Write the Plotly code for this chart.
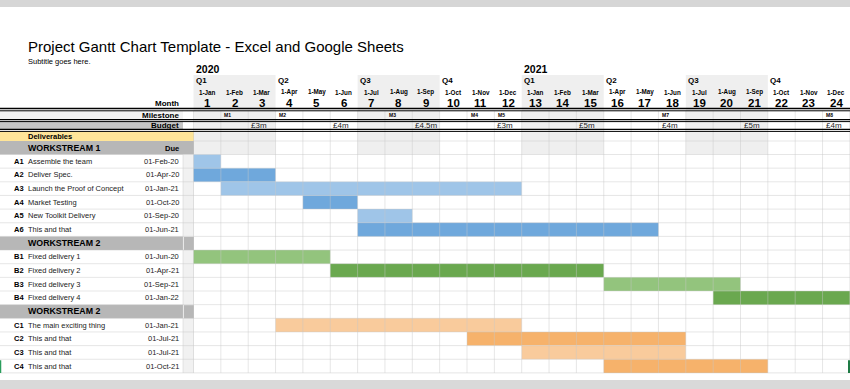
import plotly.graph_objects as go

# ---------------- data ----------------
title = "Project Gantt Chart Template - Excel and Google Sheets"
subtitle = "Subtitle goes here."
years = ["2020", "2021"]
quarters = ["Q1", "Q2", "Q3", "Q4", "Q1", "Q2", "Q3", "Q4"]
month_labels = ["1-Jan", "1-Feb", "1-Mar", "1-Apr", "1-May", "1-Jun",
                "1-Jul", "1-Aug", "1-Sep", "1-Oct", "1-Nov", "1-Dec"] * 2
month_numbers = list(range(1, 25))
milestone_names = ["M1", "M2", "M3", "M4", "M5", "M7", "M8"]
milestone_months = [2, 4, 8, 11, 12, 18, 24]
budget_labels = ["£3m", "£4m", "£4.5m", "£3m", "£5m", "£4m", "£5m", "£4m"]
budget_months = [3, 6, 9, 12, 15, 18, 21, 24]

section_titles = ["WORKSTREAM 1", "WORKSTREAM 2", "WORKSTREAM 2"]
task_ids = ["A1", "A2", "A3", "A4", "A5", "A6",
            "B1", "B2", "B3", "B4",
            "C1", "C2", "C3", "C4"]
task_names = ["Assemble the team", "Deliver Spec.", "Launch the Proof of Concept",
              "Market Testing", "New Toolkit Delivery", "This and that",
              "Fixed delivery 1", "Fixed delivery 2", "Fixed delivery 3", "Fixed delivery 4",
              "The main exciting thing", "This and that", "This and that", "This and that"]
task_due = ["01-Feb-20", "01-Apr-20", "01-Jan-21", "01-Oct-20", "01-Sep-20", "01-Jun-21",
            "01-Jun-20", "01-Apr-21", "01-Sep-21", "01-Jan-22",
            "01-Jan-21", "01-Jul-21", "01-Jul-21", "01-Oct-21"]
task_section = [0, 0, 0, 0, 0, 0, 1, 1, 1, 1, 2, 2, 2, 2]
task_start = [1, 1, 2, 5, 7, 7, 1, 6, 16, 20, 4, 11, 13, 16]
task_end = [1, 3, 12, 6, 8, 17, 5, 15, 20, 24, 12, 18, 18, 21]
task_colors = ["#9fc5e8", "#6fa8dc", "#9fc5e8", "#6fa8dc", "#9fc5e8", "#6fa8dc",
               "#93c47d", "#6aa84f", "#93c47d", "#6aa84f",
               "#f9cb9c", "#f6b26b", "#f9cb9c", "#f6b26b"]

# ---------------- layout geometry ----------------
W, H = 850, 389
X0, CW = 193.5, 27.35          # first month column left edge, column width (px)
Y0, RH = 154.5, 13.65          # first task row top, row height (px)
FONT = "Liberation Sans, Arial, Helvetica, sans-serif"


def px(x):
    return x / W


def py(y):
    return 1 - y / H


# row index of each task (section header rows interleaved)
task_rows = []
section_rows = []
r = 0
prev = 0
for s in task_section:
    if s != prev:
        section_rows.append(r)
        r += 1
        prev = s
    task_rows.append(r)
    r += 1
n_rows = r
row_px = lambda v: Y0 + (v + 0.5) * RH

fig = go.Figure()

fig.add_trace(go.Bar(
    orientation="h",
    y=task_rows,
    x=[e - s + 1 for s, e in zip(task_start, task_end)],
    base=[s - 1 for s in task_start],
    width=1.0,
    marker=dict(color=task_colors, line=dict(width=0)),
    hoverinfo="skip",
    showlegend=False,
))

shapes = []


def rect(x0, x1, y0, y1, color, xref="paper", layer="below"):
    if xref == "paper":
        x0, x1 = px(x0), px(x1)
    shapes.append(dict(type="rect", xref=xref, yref="paper", x0=x0, x1=x1,
                       y0=py(y0), y1=py(y1), fillcolor=color, line=dict(width=0), layer=layer))


def hline(y, x0, x1, color, width=1, layer="below"):
    shapes.append(dict(type="line", xref="paper", yref="paper", x0=px(x0), x1=px(x1),
                       y0=py(y), y1=py(y), line=dict(color=color, width=width), layer=layer))


def vline(x, y0, y1, color, width=1, xref="x", layer="below"):
    if xref == "paper":
        x = px(x)
    shapes.append(dict(type="line", xref=xref, yref="paper", x0=x, x1=x,
                       y0=py(y0), y1=py(y1), line=dict(color=color, width=width), layer=layer))


# outer grey bands
rect(0, W, 0, 7, "#d6d6d6")
rect(0, W, 380, H, "#d9d9d9")

# quarter shading (Q1 and Q3 columns)
for qi in range(len(quarters)):
    if qi % 2 == 0:
        rect(qi * 3, qi * 3 + 3, 75, Y0, "#efefef", xref="x")

# label area fills
rect(0, 183, 111, 119.6, "#f3f3f3")
rect(0, 183, 121.6, 129.4, "#c6c6c6")
rect(0, 194, 131.4, 141, "#ffe599")
rect(0, 194, 141, Y0, "#b7b7b7")
rect(183, 194, Y0, Y0 + n_rows * RH, "#f1f1f1")
for sr in section_rows:
    rect(0, 183, Y0 + sr * RH, Y0 + (sr + 1) * RH, "#b7b7b7")
    rect(184, 194, Y0 + sr * RH + 0.5, Y0 + (sr + 1) * RH, "#b7b7b7")

# grid (above bars, semi-transparent)
grid = "rgba(200,200,200,0.45)"
for k in range(n_rows + 1):
    hline(Y0 + k * RH, 0, W, grid, 1, layer="above")
hline(141, X0, W, grid, 1, layer="above")
for c in range(25):
    vline(c, 111, Y0 + n_rows * RH, grid, 1, layer="above")
vline(183, Y0, Y0 + n_rows * RH, grid, 1, xref="paper", layer="above")

# black double rules
for ya, yb in [(108.5, 110.8), (119.6, 121.6), (129.4, 131.4)]:
    hline(ya, 0, W, "#000000", 1.4, layer="above")
    hline(yb, 0, W, "#000000", 1.0, layer="above")

# selection marks
vline(849, Y0 + 15 * RH + 1, Y0 + 16 * RH, "#1e7b45", 2, xref="paper", layer="above")
vline(0.5, Y0 + 15 * RH + 1, Y0 + 16 * RH, "#2a9d5c", 1.5, xref="paper", layer="above")

ann = []


def text(x, y, s, size, bold=False, xanchor="left", xref="paper", yref="paper", color="#000000"):
    if xref == "paper":
        x = px(x)
    if yref == "paper":
        y = py(y)
    ann.append(dict(x=x, y=y, xref=xref, yref=yref, text=("<b>%s</b>" % s) if bold else s,
                    showarrow=False, xanchor=xanchor, yanchor="middle",
                    font=dict(family=FONT, size=size, color=color)))


text(26, 46, title, 15)
text(26, 61, subtitle, 7.5)
for i, yr in enumerate(years):
    text(i * 12 + 0.02, 69, yr, 10.5, bold=True, xref="x")
for qi, q in enumerate(quarters):
    text(qi * 3 + 0.02, 81, q, 8, bold=True, xref="x")
for c, (ml, mn) in enumerate(zip(month_labels, month_numbers)):
    text(c + 0.5, 92.3, ml, 6.3, bold=True, xanchor="center", xref="x")
    text(c + 0.5, 103, str(mn), 11.5, bold=True, xanchor="center", xref="x")
text(181, 103, "Month", 8, bold=True, xanchor="right")
text(181, 115.4, "Milestone", 8, bold=True, xanchor="right")
text(181, 125.6, "Budget", 8, bold=True, xanchor="right")
for name, m in zip(milestone_names, milestone_months):
    text(m - 1 + 0.06, 115.4, name, 5, bold=True, xref="x")
for b, m in zip(budget_labels, budget_months):
    text(m - 1 + 0.04, 125.6, b, 8, xref="x", color="#222222")
text(26, 136.3, "Deliverables", 7.5, bold=True)
text(26, 148, section_titles[0], 8.8, bold=True)
text(181, 148, "Due", 7.5, bold=True, xanchor="right")
for i, sr in enumerate(section_rows):
    text(26, row_px(sr), section_titles[i + 1], 8.8, bold=True)
for tid, name, due, rr in zip(task_ids, task_names, task_due, task_rows):
    yy = row_px(rr)
    text(12, yy, tid, 7.5, bold=True)
    text(26, yy, name, 7.5, color="#222222")
    text(181, yy, due, 7.5, xanchor="right", color="#222222")

fig.update_layout(
    width=W, height=H,
    margin=dict(l=0, r=0, t=0, b=0),
    paper_bgcolor="#ffffff", plot_bgcolor="#ffffff",
    xaxis=dict(range=[-X0 / CW, (W - X0) / CW], visible=False, fixedrange=True),
    yaxis=dict(range=[(H - Y0) / RH - 0.5, -Y0 / RH - 0.5], visible=False, fixedrange=True),
    barmode="overlay",
    shapes=shapes,
    annotations=ann,
    showlegend=False,
)

fig.write_html("out.html", config={"displayModeBar": False},
               post_script="document.body.style.margin='0';document.body.style.overflow='hidden';")
